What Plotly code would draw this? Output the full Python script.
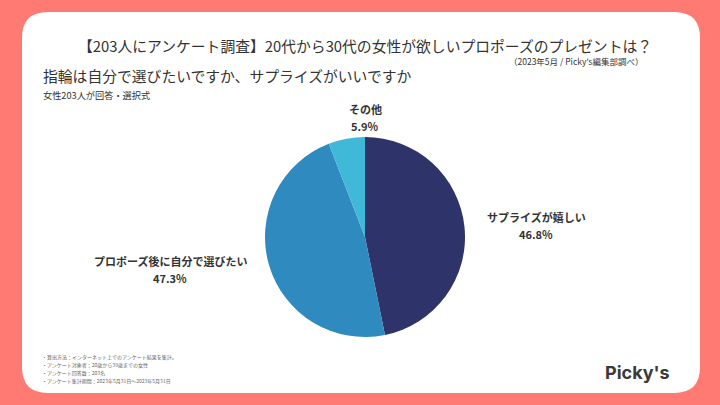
import plotly.graph_objects as go

labels = ["サプライズが嬉しい", "プロポーズ後に自分で選びたい", "その他"]
values = [46.8, 47.3, 5.9]
colors = ["#2e3369", "#2f8bbf", "#40b9d8"]

title = "【203人にアンケート調査】20代から30代の女性が欲しいプロポーズのプレゼントは？"
source = "（2023年5月 / Picky's編集部調べ）"
subtitle = "指輪は自分で選びたいですか、サプライズがいいですか"
note = "女性203人が回答・選択式"
footnotes = [
    "・算出方法：インターネット上でのアンケート結果を集計。",
    "・アンケート対象者：20歳から39歳までの女性",
    "・アンケート回答数：203名",
    "・アンケート集計期間：2023年5月31日〜2023年5月31日",
]
brand = "Picky's"

W, H = 720, 405
FONT = "Noto Sans CJK JP"
TXT = "#333333"

fig = go.Figure()
fig.add_trace(go.Pie(
    labels=labels, values=values, sort=False, direction="clockwise", rotation=0,
    marker=dict(colors=colors, line=dict(width=0)),
    textinfo="none", hoverinfo="label+percent", showlegend=False,
    domain=dict(x=[265/W, 465/W], y=[1-337/H, 1-137/H]),
))

# rounded white card
L, T, R, B, rad = 22, 12, 700, 393, 26
path = (f"M {L+rad},{H-T} L {R-rad},{H-T} Q {R},{H-T} {R},{H-T-rad} "
        f"L {R},{H-B+rad} Q {R},{H-B} {R-rad},{H-B} L {L+rad},{H-B} "
        f"Q {L},{H-B} {L},{H-B+rad} L {L},{H-T-rad} Q {L},{H-T} {L+rad},{H-T} Z")
fig.add_shape(type="path", path=path, xref="x", yref="y",
              fillcolor="white", line=dict(width=0), layer="below")

ann = []
def A(text, x, y, size, xanchor="left", color=TXT, family=FONT, yanchor="middle", align="left"):
    ann.append(dict(text=text, x=x, y=H - y, xref="x", yref="y", showarrow=False,
                    xanchor=xanchor, yanchor=yanchor, align=align,
                    font=dict(size=size, color=color, family=family)))

A(title, 365, 45, 14.8, xanchor="center")
A(source, 646, 61, 8.5, xanchor="right")
A(subtitle, 41, 75, 14.8)
A(note, 41, 95, 9.2)
label_pos = [(536, 217), (170, 261), (365, 109)]
for lab, v, (x, y) in zip(labels, values, label_pos):
    A(f"<b>{lab}</b>", x, y, 11, xanchor="center")
    A(f"<b>{v}%</b>", x, y + 17, 11, xanchor="center")
for i, f in enumerate(footnotes):
    A(f, 40, 357 + i * 8, 5, color="#666666")
A(f"<b>{brand}</b>", 637, 372, 18, xanchor="center", color="#3a3a3a", family="Inter")

fig.update_layout(
    width=W, height=H, margin=dict(l=0, r=0, t=0, b=0),
    paper_bgcolor="#ff7a72", plot_bgcolor="rgba(0,0,0,0)",
    xaxis=dict(range=[0, W], visible=False, fixedrange=True),
    yaxis=dict(range=[0, H], visible=False, fixedrange=True),
    annotations=ann,
)
fig.write_html("out.html", config={"displayModeBar": False})
